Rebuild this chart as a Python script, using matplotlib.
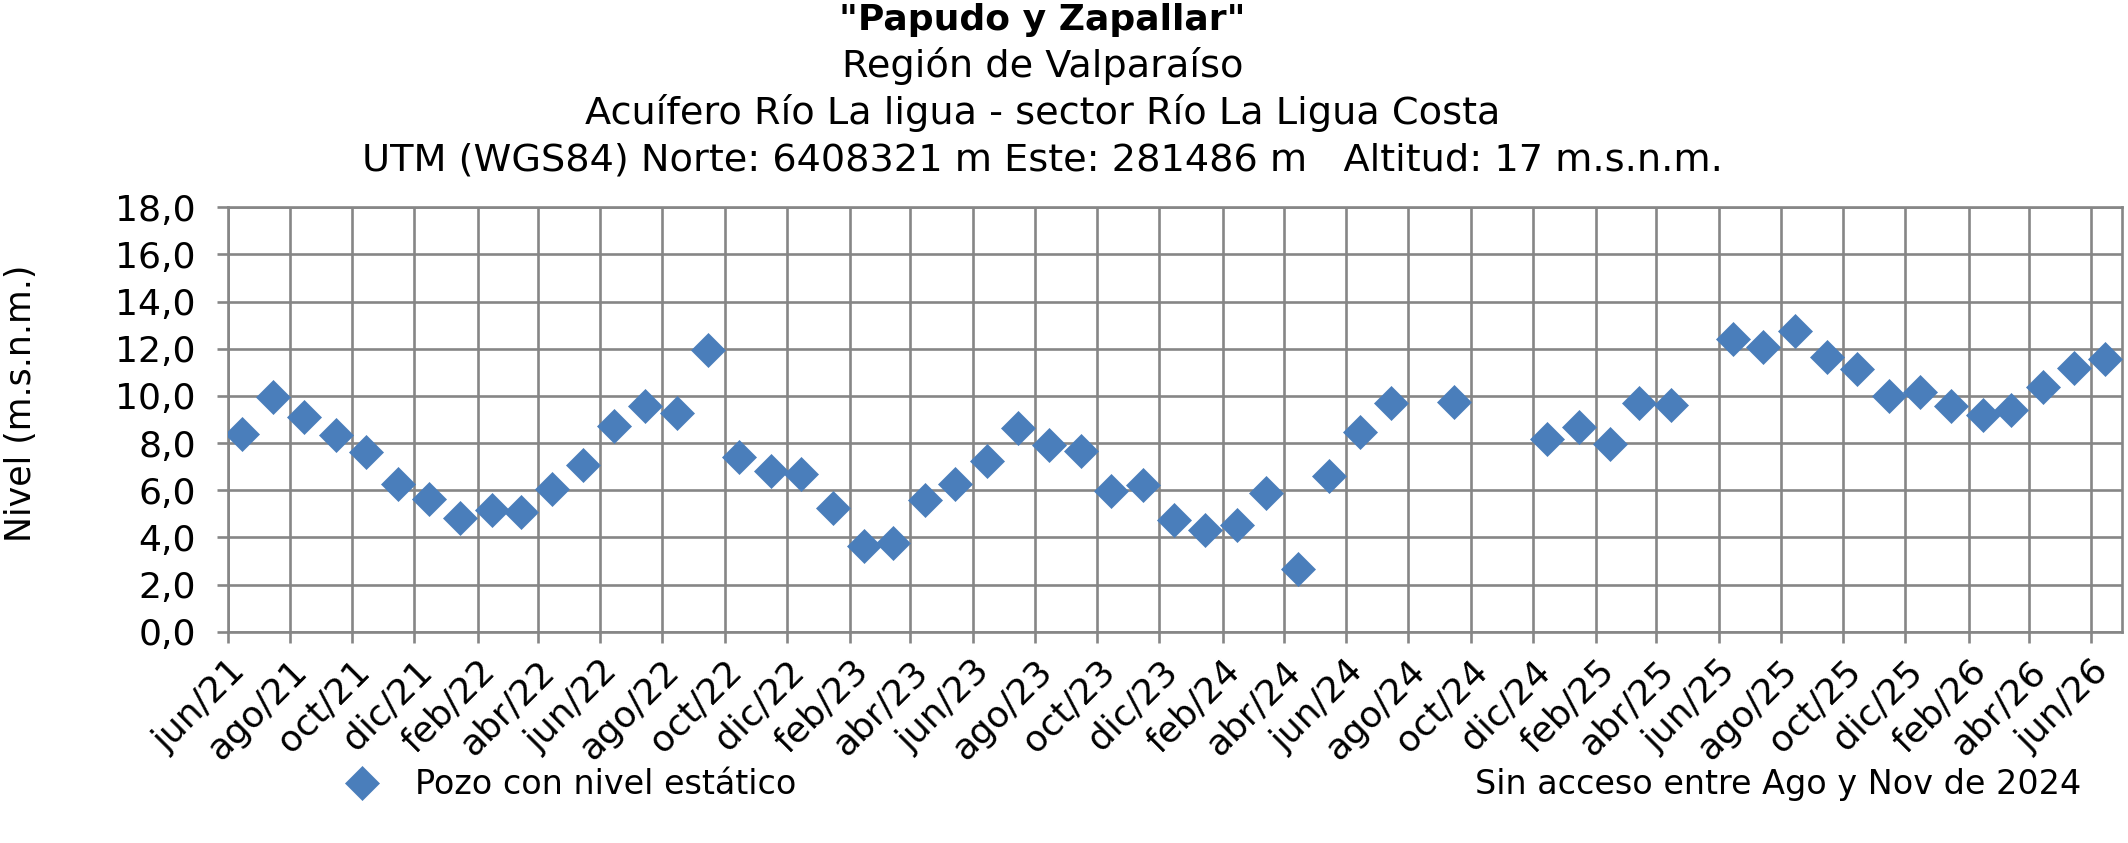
import matplotlib
matplotlib.use('Agg')
import matplotlib.pyplot as plt
import matplotlib.dates as mdates
import pandas as pd

# Fechas de medición (mitad de mes) y nivel estático en m.s.n.m.
fechas = [
    '2021-06-15', '2021-07-15', '2021-08-15', '2021-09-15', '2021-10-15', '2021-11-15',
    '2021-12-15', '2022-01-15', '2022-02-15', '2022-03-15', '2022-04-15', '2022-05-15',
    '2022-06-15', '2022-07-15', '2022-08-15', '2022-09-15', '2022-10-15', '2022-11-15',
    '2022-12-15', '2023-01-15', '2023-02-15', '2023-03-15', '2023-04-15', '2023-05-15',
    '2023-06-15', '2023-07-15', '2023-08-15', '2023-09-15', '2023-10-15', '2023-11-15',
    '2023-12-15', '2024-01-15', '2024-02-15', '2024-03-15', '2024-04-15', '2024-05-15',
    '2024-06-15', '2024-07-15', '2024-09-15', '2024-12-15', '2025-01-15', '2025-02-15',
    '2025-03-15', '2025-04-15', '2025-06-15', '2025-07-15', '2025-08-15', '2025-09-15',
    '2025-10-15', '2025-11-15', '2025-12-15', '2026-01-15', '2026-02-15', '2026-03-15',
    '2026-04-15', '2026-05-15', '2026-06-15',
]
nivel = [
    8.38, 9.97, 9.12, 8.35, 7.64, 6.27,
    5.64, 4.83, 5.17, 5.06, 6.04, 7.08,
    8.74, 9.56, 9.29, 11.96, 7.39, 6.80,
    6.67, 5.23, 3.62, 3.74, 5.58, 6.27,
    7.24, 8.62, 7.93, 7.67, 5.98, 6.21,
    4.72, 4.31, 4.54, 5.87, 2.65, 6.61,
    8.46, 9.71, 9.76, 8.18, 8.67, 7.96,
    9.69, 9.60, 12.41, 12.07, 12.77, 11.64,
    11.14, 9.98, 10.15, 9.57, 9.19, 9.42,
    10.38, 11.20, 11.58,
]
meses = ['ene', 'feb', 'mar', 'abr', 'may', 'jun', 'jul', 'ago', 'sep', 'oct', 'nov', 'dic']

titulos = ['"Papudo y Zapallar"',
           'Región de Valparaíso',
           'Acuífero Río La ligua - sector Río La Ligua Costa',
           'UTM (WGS84) Norte: 6408321 m Este: 281486 m   Altitud: 17 m.s.n.m.']
nota = 'Sin acceso entre Ago y Nov de 2024'

plt.rcParams['font.family'] = 'DejaVu Sans'
azul = '#4A7EBB'
gris = '#868686'
fs = 24      # leyenda y nota
fs_tick = 26
fs_tit = 27.5

fig = plt.figure(figsize=(21.28, 8.43), dpi=100)
ax = fig.add_axes([0.107, 0.2507, 0.890, 0.5034])

x = pd.to_datetime(fechas)
ax.plot(x, nivel, linestyle='none', marker='D', markersize=17,
        color=azul, markeredgecolor=azul, markeredgewidth=0.5,
        label='Pozo con nivel estático', zorder=3)

ax.set_xlim(pd.Timestamp('2021-06-01'), pd.Timestamp('2026-07-01'))
ax.set_ylim(0, 18)
ax.set_yticks(range(0, 19, 2))
ax.yaxis.set_major_formatter(plt.FuncFormatter(lambda v, p: f'{v:.1f}'.replace('.', ',')))

ax.xaxis.set_major_locator(mdates.MonthLocator(bymonth=[2, 4, 6, 8, 10, 12]))
ax.xaxis.set_major_formatter(plt.FuncFormatter(
    lambda v, p: f"{meses[mdates.num2date(v).month - 1]}/{mdates.num2date(v).year % 100:02d}"))

ax.grid(True, color=gris, linewidth=1.9)
ax.set_axisbelow(True)
for s in ax.spines.values():
    s.set_color(gris)
    s.set_linewidth(1.9)
ax.tick_params(axis='both', colors=gris, width=1.9, length=8, labelsize=fs_tick, labelcolor='black')
ax.tick_params(axis='y', pad=15)
ax.tick_params(axis='x', pad=8)
plt.setp(ax.get_xticklabels(), rotation=45, ha='right', rotation_mode='anchor')

fig.text(0.010, 0.522, 'Nivel (m.s.n.m.)', rotation=90, va='center', ha='center', fontsize=25)

ys = [0.976, 0.922, 0.866, 0.810]
for i, t in enumerate(titulos):
    fig.text(0.49, ys[i], t, ha='center', va='center',
             fontsize=26 if i == 0 else fs_tit,
             fontweight='bold' if i == 0 else 'normal')

fig.legend(loc='center left', bbox_to_anchor=(0.148, 0.069), frameon=False,
           fontsize=fs, handletextpad=0.6, borderaxespad=0)
fig.text(0.978, 0.069, nota, ha='right', va='center', fontsize=fs)

fig.savefig('out.png', dpi=100)
